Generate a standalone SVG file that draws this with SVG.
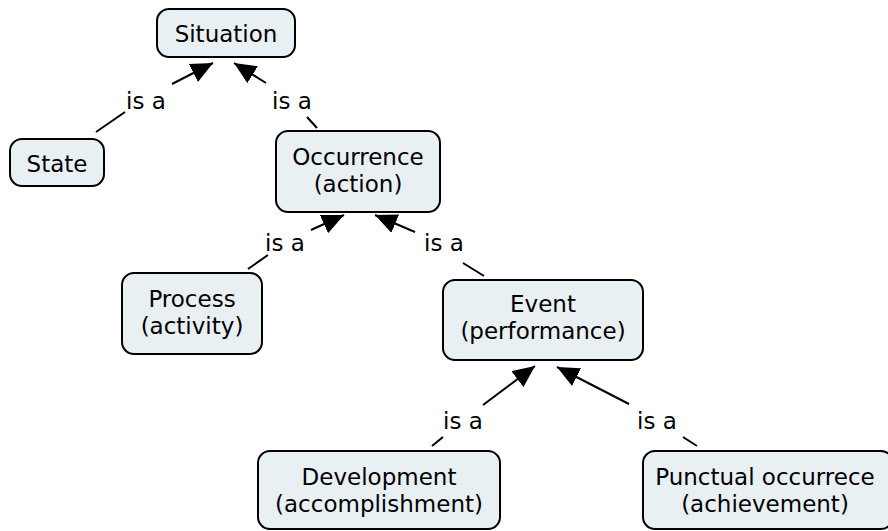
<svg xmlns="http://www.w3.org/2000/svg" width="888" height="531" viewBox="0 0 888 531">
<defs>
<marker id="arr" viewBox="0 0 22 20" refX="22" refY="10" markerWidth="22" markerHeight="20" markerUnits="userSpaceOnUse" orient="auto">
<path d="M0,0 L22,10 L0,20 Z" fill="#000"/>
</marker>
<style>
.box{fill:#e9f0f3;stroke:#000;stroke-width:2}
.t{font-family:"DejaVu Sans","Verdana",sans-serif;font-size:23px;fill:#000;text-anchor:middle}
.c line{stroke:#000;stroke-width:2}
</style>
</defs>
<rect width="888" height="531" fill="#fff"/>
<g id="connectors" class="c">
<line x1="96" y1="132" x2="125" y2="112"/>
<line x1="172" y1="84" x2="213" y2="63" marker-end="url(#arr)"/>
<text class="t" x="146" y="109">is a</text>
<line x1="317" y1="128" x2="307" y2="117"/>
<line x1="266" y1="83" x2="234" y2="63" marker-end="url(#arr)"/>
<text class="t" x="292" y="109">is a</text>
<line x1="248" y1="269" x2="268" y2="255"/>
<line x1="311" y1="230" x2="344" y2="215" marker-end="url(#arr)"/>
<text class="t" x="285" y="251">is a</text>
<line x1="484" y1="276" x2="463" y2="263"/>
<line x1="415" y1="232" x2="375" y2="215" marker-end="url(#arr)"/>
<text class="t" x="444" y="251">is a</text>
<line x1="432" y1="446" x2="443" y2="437"/>
<line x1="483" y1="405" x2="535" y2="366" marker-end="url(#arr)"/>
<text class="t" x="463" y="429">is a</text>
<line x1="697" y1="446" x2="683" y2="437"/>
<line x1="629" y1="404" x2="557" y2="367" marker-end="url(#arr)"/>
<text class="t" x="657" y="429">is a</text>
</g>
<g id="situation"><rect class="box" x="157" y="9" width="138" height="48" rx="12"/><text class="t" x="226" y="42">Situation</text></g>
<g id="state"><rect class="box" x="10" y="139" width="94" height="47" rx="12"/><text class="t" x="57" y="172">State</text></g>
<g id="occurrence"><rect class="box" x="276" y="131" width="164" height="81" rx="12"/><text class="t" x="358" y="165">Occurrence</text><text class="t" x="358" y="192">(action)</text></g>
<g id="process"><rect class="box" x="122" y="273" width="140" height="81" rx="12"/><text class="t" x="192" y="307">Process</text><text class="t" x="192" y="334">(activity)</text></g>
<g id="event"><rect class="box" x="443" y="280" width="200" height="80" rx="12"/><text class="t" x="543" y="312">Event</text><text class="t" x="543" y="339">(performance)</text></g>
<g id="development"><rect class="box" x="258" y="451" width="242" height="78" rx="12"/><text class="t" x="379" y="485">Development</text><text class="t" x="379" y="512">(accomplishment)</text></g>
<g id="punctual"><rect class="box" x="643" y="451" width="250" height="78" rx="12"/><text class="t" x="765" y="485">Punctual occurrece</text><text class="t" x="765" y="512">(achievement)</text></g>
</svg>
